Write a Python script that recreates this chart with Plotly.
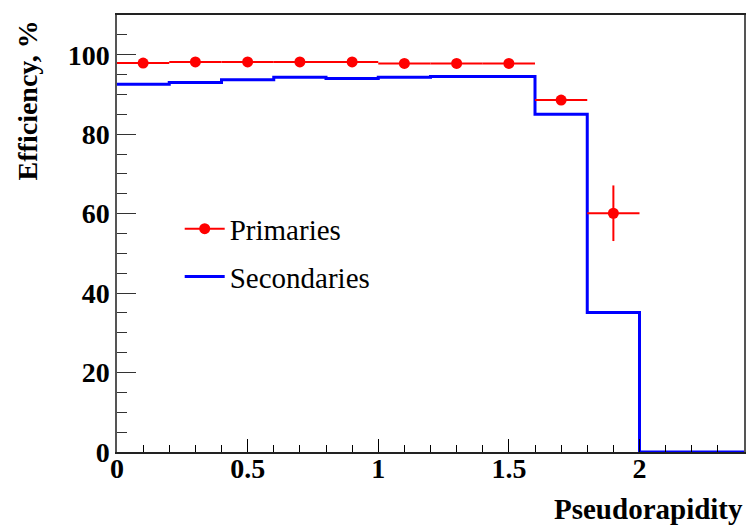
import plotly.graph_objects as go

# Primaries (points with errors)
prim_x = [0.1, 0.3, 0.5, 0.7, 0.9, 1.1, 1.3, 1.5, 1.7, 1.9]
prim_y = [97.9, 98.2, 98.2, 98.2, 98.2, 97.8, 97.8, 97.8, 88.6, 60.1]
prim_xerr = [0.1] * 10
prim_yerr = [0.3, 0.3, 0.3, 0.3, 0.3, 0.3, 0.3, 0.4, 0.8, 7.0]

# Secondaries (histogram)
sec_edges = [0.0, 0.2, 0.4, 0.6, 0.8, 1.0, 1.2, 1.4, 1.6, 1.8, 2.0, 2.2, 2.4]
sec_values = [92.6, 93.0, 93.7, 94.3, 94.0, 94.3, 94.5, 94.5, 85.0, 35.1, 0.0, 0.0]

FONT = "Liberation Serif"

fig = go.Figure()

step_x = sec_edges[:-1] + [sec_edges[-1]]
step_y = sec_values + [sec_values[-1]]
fig.add_trace(go.Scatter(
    x=step_x, y=step_y, mode="lines", line_shape="hv", name="Secondaries",
    line=dict(color="#0000ff", width=3),
    legendgroup="b", legendrank=2,
))

# points separated by gaps so no connecting line is drawn (line only shows in legend)
px, py = [], []
for xv, yv in zip(prim_x, prim_y):
    px += [xv, None]
    py += [yv, None]
ex, ey = [], []
for a, b in zip(prim_xerr, prim_yerr):
    ex += [a, 0]
    ey += [b, 0]
fig.add_trace(go.Scatter(
    x=px, y=py, mode="lines+markers", name="Primaries", connectgaps=False,
    line=dict(color="#ff0000", width=2),
    marker=dict(color="#ff0000", size=11, symbol="circle"),
    error_x=dict(type="data", array=ex, color="#ff0000", thickness=2, width=0),
    error_y=dict(type="data", array=ey, color="#ff0000", thickness=2, width=0),
    legendgroup="a", legendrank=1,
))

fig.update_layout(
    width=748, height=526,
    margin=dict(l=117, r=2, t=15, b=74),
    paper_bgcolor="white", plot_bgcolor="white",
    font=dict(family=FONT, color="black"),
    showlegend=True,
    legend=dict(
        x=0.1, y=0.569, xanchor="left", yanchor="top",
        font=dict(family=FONT, size=29, color="black"),
        bgcolor="rgba(0,0,0,0)", tracegroupgap=7, itemwidth=40,
        traceorder="grouped",
    ),
)

fig.update_xaxes(
    range=[0, 2.4], showgrid=False, zeroline=False,
    showline=True, linecolor="#222", linewidth=1.5, mirror=True,
    ticks="inside", ticklen=13, tickcolor="black", tickwidth=1,
    tickvals=[0, 0.5, 1, 1.5, 2], ticktext=["0", "0.5", "1", "1.5", "2"],
    tickfont=dict(family=FONT, size=28, color="black", weight="bold"),
    ticklabelstandoff=-9,
    minor=dict(ticks="inside", ticklen=7, dtick=0.1, tick0=0, tickcolor="black", showgrid=False),
)
fig.update_yaxes(
    range=[0, 110], showgrid=False, zeroline=False,
    showline=True, linecolor="#555", linewidth=1.5, mirror=True,
    ticks="inside", ticklen=19, tickcolor="#333", tickwidth=1,
    dtick=20, tick0=0,
    tickfont=dict(family=FONT, size=28, color="black", weight="bold"),
    minor=dict(ticks="inside", ticklen=10, dtick=5, tick0=0, tickcolor="#333", showgrid=False),
)

fig.add_annotation(
    text="Pseudorapidity", xref="paper", yref="paper", x=1.0, y=-0.169,
    xanchor="right", yanchor="bottom", showarrow=False, borderpad=0,
    font=dict(family=FONT, size=29, color="black", weight="bold"),
)
fig.add_annotation(
    text="Efficiency, %", xref="paper", yref="paper", x=-0.143, y=0.993,
    xanchor="center", yanchor="top", textangle=-90, showarrow=False,
    font=dict(family=FONT, size=28, color="black", weight="bold"),
)

# remove the page's default body margin so the 748x526 figure fills the window exactly
fig.write_html(
    "out.html",
    config={"displayModeBar": False},
    post_script="document.body.style.margin='0';document.body.style.overflow='hidden';",
)
